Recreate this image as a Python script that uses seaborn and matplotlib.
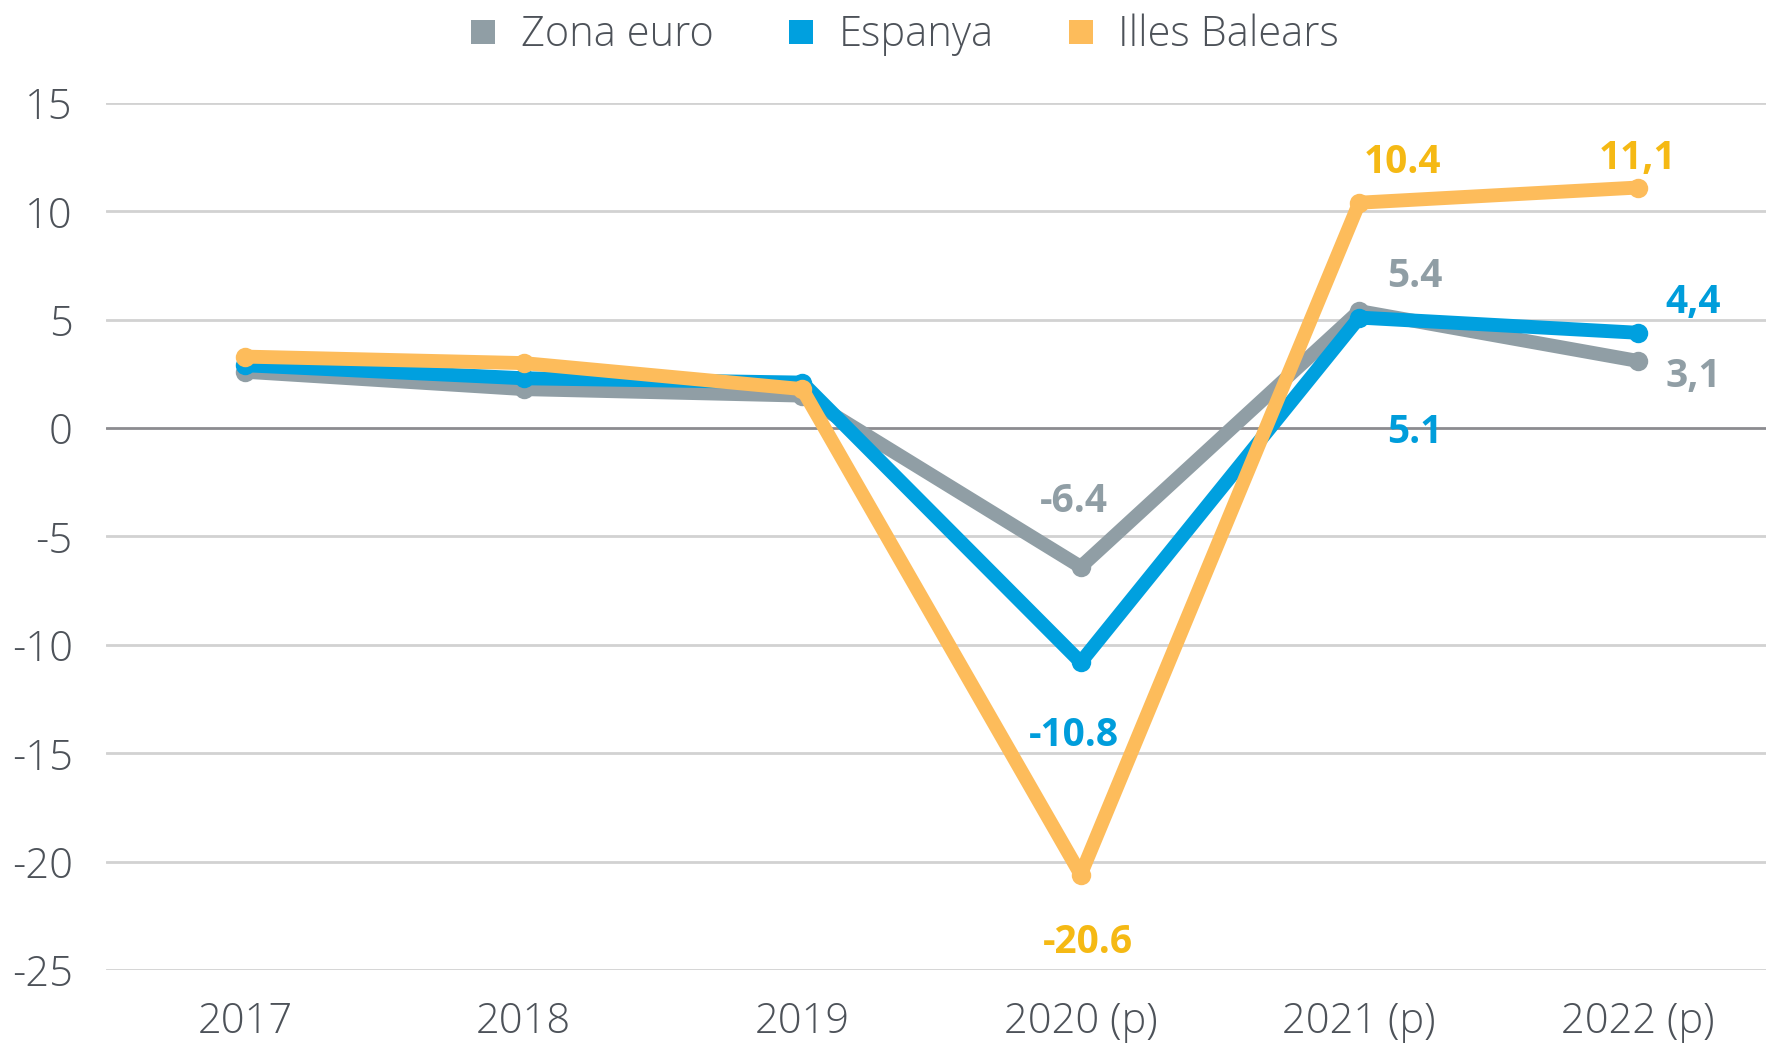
import matplotlib
matplotlib.use("Agg")
import matplotlib.pyplot as plt
from matplotlib.lines import Line2D
import seaborn as sns
import pandas as pd

years = ["2017", "2018", "2019", "2020 (p)", "2021 (p)", "2022 (p)"]
zona_euro = [2.6, 1.8, 1.5, -6.4, 5.4, 3.1]
espanya = [2.9, 2.3, 2.1, -10.8, 5.1, 4.4]
illes_balears = [3.3, 3.0, 1.8, -20.6, 10.4, 11.1]
series_names = ["Zona euro", "Espanya", "Illes Balears"]
yticks = [-25, -20, -15, -10, -5, 0, 5, 10, 15]

line_colors = {"Zona euro": "#909ea5", "Espanya": "#00a0df", "Illes Balears": "#fdbc5b"}
label_colors = {"Zona euro": "#909ea5", "Espanya": "#009ddb", "Illes Balears": "#f5b914"}

# value labels: (series, index, text, dx_pt, dy_pt)
value_labels = [
    ("Zona euro", 3, "-6.4", -5, 47),
    ("Espanya", 3, "-10.8", -5, -53),
    ("Illes Balears", 3, "-20.6", 5, -49),
    ("Illes Balears", 4, "10.4", 31, 29),
    ("Illes Balears", 5, "11,1", 0, 21),
    ("Zona euro", 4, "5.4", 40, 25),
    ("Espanya", 4, "5.1", 40, -83),
    ("Espanya", 5, "4,4", 40, 22),
    ("Zona euro", 5, "3,1", 40, -11),
]

sns.set_style("white")
plt.rcParams["font.family"] = ["Open Sans", "DejaVu Sans"]

values = {"Zona euro": zona_euro, "Espanya": espanya, "Illes Balears": illes_balears}
rows = []
for s in series_names:
    for i, v in enumerate(values[s]):
        rows.append({"x": i, "value": v, "series": s})
df = pd.DataFrame(rows)

fig = plt.figure(figsize=(17.66, 10.43), dpi=100)
ax = fig.add_axes([106 / 1766, 73 / 1043, 1671 / 1766, 867 / 1043])

sns.lineplot(data=df, x="x", y="value", hue="series", hue_order=series_names,
             palette=line_colors, marker="o", markersize=14, markeredgewidth=0,
             linewidth=10, ax=ax, legend=False, zorder=3)

ax.set_xlim(-0.5, 5.5)
ax.set_ylim(-25, 15)
ax.set_yticks(yticks)
ax.set_yticklabels([str(t) for t in yticks])
ax.set_xticks(range(len(years)))
ax.set_xticklabels(years)
ax.set_xlabel("")
ax.set_ylabel("")
for sp in ax.spines.values():
    sp.set_visible(False)
ax.tick_params(axis="both", length=0, labelsize=30, labelcolor="#4d5259")
ax.tick_params(axis="y", pad=24)
ax.tick_params(axis="x", pad=22)
for lab in ax.get_xticklabels() + ax.get_yticklabels():
    lab.set_fontweight("light")

for t in yticks:
    ax.axhline(t, color="#8c8c90" if t == 0 else "#d2d2d2", linewidth=2, zorder=1)

for s, i, txt, dx, dy in value_labels:
    ax.annotate(txt, xy=(i, values[s][i]), xytext=(dx, dy), textcoords="offset points",
                ha="center", va="center", fontsize=28, fontweight="bold",
                color=label_colors[s], zorder=5)

handles = [Line2D([0], [0], marker="s", linestyle="none", markersize=17,
                  markerfacecolor=line_colors[s], markeredgewidth=0) for s in series_names]
leg = fig.legend(handles, series_names, loc="center", bbox_to_anchor=(905 / 1766, 1 - 35 / 1043),
                 ncol=3, frameon=False, fontsize=30, handlelength=0.6, handletextpad=0.6,
                 columnspacing=1.8, labelcolor="#4d5259")
for t in leg.get_texts():
    t.set_fontweight("light")

fig.savefig("out.png", dpi=100)
